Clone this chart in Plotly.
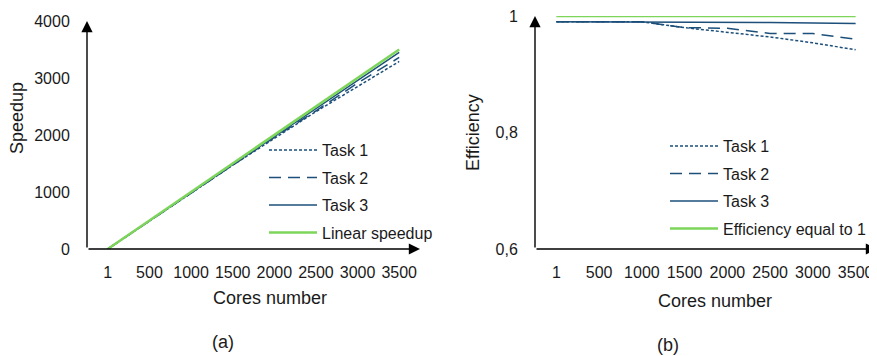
import plotly.graph_objects as go

cores = ["1", "500", "1000", "1500", "2000", "2500", "3000", "3500"]

speedup_task1 = [1, 495, 990, 1470, 1940, 2410, 2850, 3290]
speedup_task2 = [1, 495, 990, 1470, 1960, 2425, 2910, 3360]
speedup_task3 = [1, 495, 990, 1485, 1980, 2470, 2960, 3450]
speedup_linear = [1, 500, 1000, 1500, 2000, 2500, 3000, 3500]

eff_task1 = [0.99, 0.99, 0.99, 0.98, 0.972, 0.964, 0.954, 0.942]
eff_task2 = [0.99, 0.99, 0.99, 0.98, 0.979, 0.97, 0.97, 0.96]
eff_task3 = [0.99, 0.99, 0.99, 0.99, 0.99, 0.989, 0.988, 0.987]
eff_one = [1, 1, 1, 1, 1, 1, 1, 1]

speedup_ticks = [0, 1000, 2000, 3000, 4000]
eff_ticks = [0.6, 0.8, 1.0]
eff_ticklabels = ["0,6", "0,8", "1"]

BLUE = "#1d4f7b"
GREEN = "#7dd65a"
FONT = "Liberation Sans, Arial, sans-serif"
TXT = "#1a1a1a"
PAGE_MARGIN = 8  # default body margin of the html page
W, H = 877 - PAGE_MARGIN, 356 - PAGE_MARGIN

fig = go.Figure()

styles = [
    ("Task 1", dict(color=BLUE, width=1.5, dash="3px,2px")),
    ("Task 2", dict(color=BLUE, width=1.5, dash="12px,7px")),
    ("Task 3", dict(color=BLUE, width=1.5)),
]
for (name, ln), ys in zip(styles, [speedup_task1, speedup_task2, speedup_task3]):
    fig.add_trace(go.Scatter(x=cores, y=ys, mode="lines", name=name, line=ln,
                             xaxis="x", yaxis="y", legend="legend", legendgroup="a" + name))
fig.add_trace(go.Scatter(x=cores, y=speedup_linear, mode="lines", name="Linear speedup",
                         line=dict(color=GREEN, width=2.5), xaxis="x", yaxis="y",
                         legend="legend", legendgroup="alin"))

for (name, ln), ys in zip(styles, [eff_task1, eff_task2, eff_task3]):
    fig.add_trace(go.Scatter(x=cores, y=ys, mode="lines", name=name, line=ln,
                             xaxis="x2", yaxis="y2", legend="legend2", legendgroup="b" + name))
fig.add_trace(go.Scatter(x=cores, y=eff_one, mode="lines", name="Efficiency equal to 1",
                         line=dict(color=GREEN, width=2.5), xaxis="x2", yaxis="y2",
                         legend="legend2", legendgroup="blin"))

def px_x(p):
    return (p - PAGE_MARGIN) / W

def px_y(p):
    return (H - (p - PAGE_MARGIN)) / H

xa_common = dict(type="category", categoryorder="array", categoryarray=cores,
                 range=[-0.5, 7.5], showgrid=False, zeroline=False, showline=False,
                 automargin=False, ticklabeloverflow="allow",
                 ticks="outside", ticklen=9, tickcolor="rgba(0,0,0,0)",
                 tickfont=dict(family=FONT, size=16, color=TXT))
ya_common = dict(showgrid=False, zeroline=False, showline=False, automargin=False,
                 ticklabeloverflow="allow",
                 ticks="outside", ticklen=13, tickcolor="rgba(0,0,0,0)",
                 tickfont=dict(family=FONT, size=16, color=TXT))

leg_common = dict(xanchor="left", yanchor="top", bgcolor="rgba(0,0,0,0)",
                  tracegroupgap=3.7, itemwidth=48,
                  font=dict(family=FONT, size=16, color=TXT))

fig.update_layout(
    width=W, height=H,
    margin=dict(l=0, r=0, t=0, b=0),
    paper_bgcolor="white", plot_bgcolor="white",
    font=dict(family=FONT, size=16, color=TXT),
    xaxis=dict(domain=[px_x(87), px_x(420)], anchor="y", **xa_common),
    yaxis=dict(domain=[px_y(249), px_y(21)], anchor="x", range=[0, 4000],
               tickvals=speedup_ticks, **ya_common),
    xaxis2=dict(domain=[px_x(535), px_x(877)], anchor="y2", **xa_common),
    yaxis2=dict(domain=[px_y(249), px_y(16)], anchor="x2", range=[0.6, 1.0],
                tickvals=eff_ticks, ticktext=eff_ticklabels, **ya_common),
    legend=dict(x=px_x(264), y=px_y(133), **leg_common),
    legend2=dict(x=px_x(665), y=px_y(129), **leg_common),
    showlegend=True,
)

# axis lines with arrowheads
for xr, yr in [("x", "y"), ("x2", "y2")]:
    fig.add_annotation(xref=xr + " domain", yref=yr + " domain", x=1, y=0,
                       axref=xr + " domain", ayref=yr + " domain", ax=0, ay=0,
                       showarrow=True, arrowhead=2, arrowsize=1.6, arrowwidth=1.4,
                       arrowcolor="black", text="")
    fig.add_annotation(xref=xr + " domain", yref=yr + " domain", x=0, y=1,
                       axref=xr + " domain", ayref=yr + " domain", ax=0, ay=0,
                       showarrow=True, arrowhead=2, arrowsize=1.6, arrowwidth=1.4,
                       arrowcolor="black", text="")

labels = [
    ("Cores number", 270, 298, 0),
    ("Cores number", 715, 301, 0),
    ("Speedup", 17, 118, -90),
    ("Efficiency", 473, 133, -90),
    ("(a)", 223, 342, 0),
    ("(b)", 668, 345, 0),
]
for t, x, y, ang in labels:
    fig.add_annotation(xref="paper", yref="paper", x=px_x(x), y=px_y(y), text=t,
                       showarrow=False, textangle=ang, xanchor="center", yanchor="middle",
                       font=dict(family=FONT, size=18, color=TXT))

fig.write_html("out.html")
